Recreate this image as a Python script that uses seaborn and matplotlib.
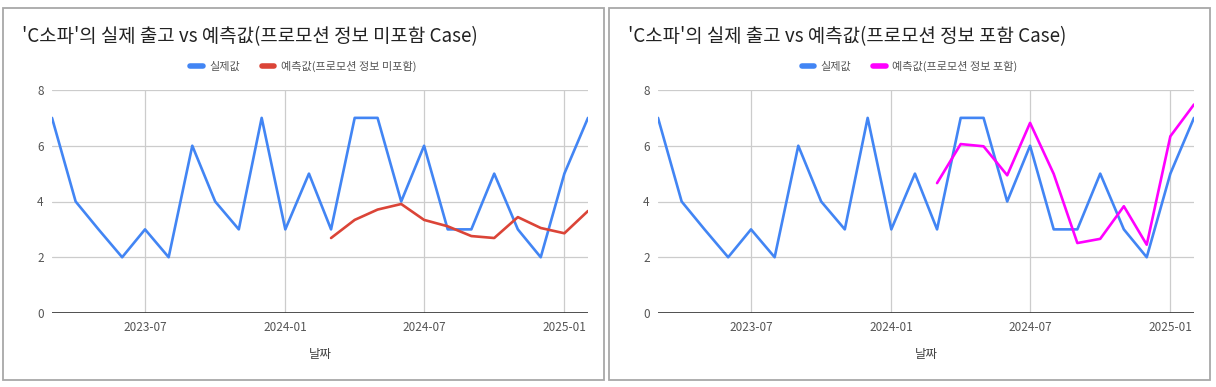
import numpy as np
import pandas as pd
import matplotlib
matplotlib.use('Agg')
import matplotlib.pyplot as plt
import matplotlib.dates as mdates
from matplotlib.patches import Rectangle
import seaborn as sns

# monthly data, 2023-03 .. 2025-02
months = pd.date_range('2023-03-01', '2025-02-01', freq='MS')
actual = [7, 4, 3, 2, 3, 2, 6, 4, 3, 7, 3, 5, 3, 7, 7, 4, 6, 3, 3, 5, 3, 2, 5, 7]
pred_months = pd.date_range('2024-03-01', '2025-02-01', freq='MS')
pred_no_promo = [2.69, 3.34, 3.71, 3.91, 3.34, 3.11, 2.76, 2.69, 3.44, 3.05, 2.86, 3.66]
pred_promo = [4.66, 6.06, 5.98, 4.94, 6.82, 4.99, 2.51, 2.66, 3.83, 2.45, 6.34, 7.48]

titles = ["'C소파'의 실제 출고 vs 예측값(프로모션 정보 미포함 Case)",
          "'C소파'의 실제 출고 vs 예측값(프로모션 정보 포함 Case)"]
pred_labels = ['예측값(프로모션 정보 미포함)', '예측값(프로모션 정보 포함)']
preds = [pred_no_promo, pred_promo]
pred_colors = ['#db4437', '#ff00ff']
blue = '#4285f4'

sns.set_theme(style='white')
plt.rcParams['font.family'] = ['Noto Sans CJK KR', 'DejaVu Sans']

fig = plt.figure(figsize=(12.16, 3.87), dpi=100)
W, H = 1216, 387

panels = [(3, 604), (609, 1210)]
ax_left = [52, 658]
for i in range(2):
    x0, x1 = panels[i]
    fig.patches.append(Rectangle((x0 / W, 1 - 380 / H), (x1 - x0) / W, (380 - 8) / H,
                                 transform=fig.transFigure, fill=False,
                                 edgecolor='#a8a8a8', linewidth=1.3))
    ax = fig.add_axes([ax_left[i] / W, 1 - 313 / H, 536 / W, (313 - 90) / H])
    sns.lineplot(x=months, y=actual, ax=ax, color=blue, linewidth=1.9)
    sns.lineplot(x=pred_months, y=preds[i], ax=ax, color=pred_colors[i], linewidth=1.9)
    ax.set_xlim(months[0], months[-1])
    ax.set_ylim(0, 8)
    ax.set_yticks([0, 2, 4, 6, 8])
    ax.xaxis.set_major_locator(mdates.MonthLocator(bymonth=[1, 7]))
    ax.xaxis.set_major_formatter(mdates.DateFormatter('%Y-%m'))
    ax.grid(True, color='#cccccc', linewidth=0.9)
    ax.set_axisbelow(True)
    for s in ax.spines.values():
        s.set_visible(False)
    ax.axhline(0, color='#333333', linewidth=1.2)
    ax.tick_params(axis='both', length=0, labelsize=8.5, labelcolor='#555555', pad=6)
    ax.set_xlabel('날짜', fontsize=9, color='#444444', labelpad=10)
    ax.set_ylabel('')
    fig.text((x0 + 19) / W, 1 - 37 / H, titles[i], fontsize=13.6, color='#222222',
             va='center', ha='left')
    handles = [plt.Line2D([], [], color=blue, linewidth=4),
               plt.Line2D([], [], color=pred_colors[i], linewidth=4)]
    fig.legend(handles, ['실제값', pred_labels[i]], loc='center',
               bbox_to_anchor=(((x0 + x1) / 2) / W, 1 - 66 / H), ncol=2, frameon=False,
               fontsize=8, labelcolor='#555555', handlelength=1.1, columnspacing=2.0,
               handletextpad=0.6)

fig.savefig('out.png', dpi=100)
